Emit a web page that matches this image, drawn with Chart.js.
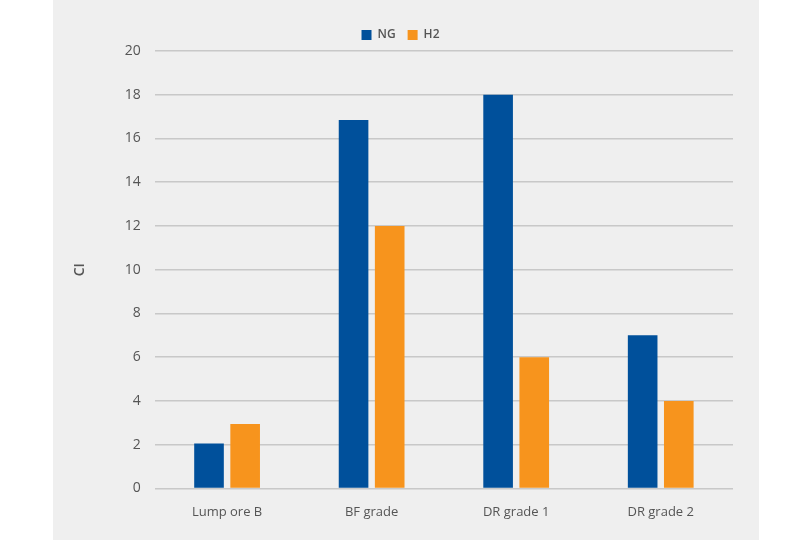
<!DOCTYPE html>
<html><head><meta charset="utf-8">
<script src="https://cdn.jsdelivr.net/npm/chart.js@4/dist/chart.umd.min.js"></script>
<style>html,body{margin:0;padding:0;background:#fff}#w{position:absolute;left:0;top:0;width:810px;height:540px}</style>
</head><body><div id="w"><canvas id="c"></canvas></div>
<script>
const categories = ["Lump ore B", "BF grade", "DR grade 1", "DR grade 2"];
const ngValues = [2.05, 16.85, 18, 7];
const h2Values = [2.95, 12, 6, 4];
const yTicks = [0, 2, 4, 6, 8, 10, 12, 14, 16, 18, 20];
Chart.defaults.font.family = "'Open Sans', sans-serif";
Chart.defaults.color = "#555";
const panel = {id:'panel', beforeDraw(ch){const c=ch.ctx;c.save();c.fillStyle='#efefef';c.fillRect(53,0,706,540);c.restore();}};
new Chart(document.getElementById('c'), {
  type: 'bar',
  data: { labels: categories, datasets: [
    {label:'NG', data: ngValues, backgroundColor:'#00509b', barPercentage:0.82, categoryPercentage:0.5},
    {label:'H2', data: h2Values, backgroundColor:'#f7941d', barPercentage:0.82, categoryPercentage:0.5}
  ]},
  options: {
    responsive:true, maintainAspectRatio:false, animation:false,
    layout:{padding:{left:68, right:77, top:17, bottom:12}},
    plugins:{ legend:{labels:{boxWidth:10, boxHeight:10, padding:12, font:{size:12, weight:'600'}}}, tooltip:{enabled:false}},
    scales:{
      x:{grid:{display:false}, border:{display:false}, ticks:{font:{size:13}, padding:8}},
      y:{min:0, max:20, afterBuildTicks(a){a.ticks=yTicks.map(v=>({value:v}));},
         grid:{color:'#c8c8c8', lineWidth:1.5, drawTicks:false}, border:{display:false},
         ticks:{font:{size:14}, padding:14},
         title:{display:true, text:'CI', font:{size:14, weight:'600'}, padding:{bottom:22}}}
    }
  },
  plugins:[panel]
});
</script></body></html>
